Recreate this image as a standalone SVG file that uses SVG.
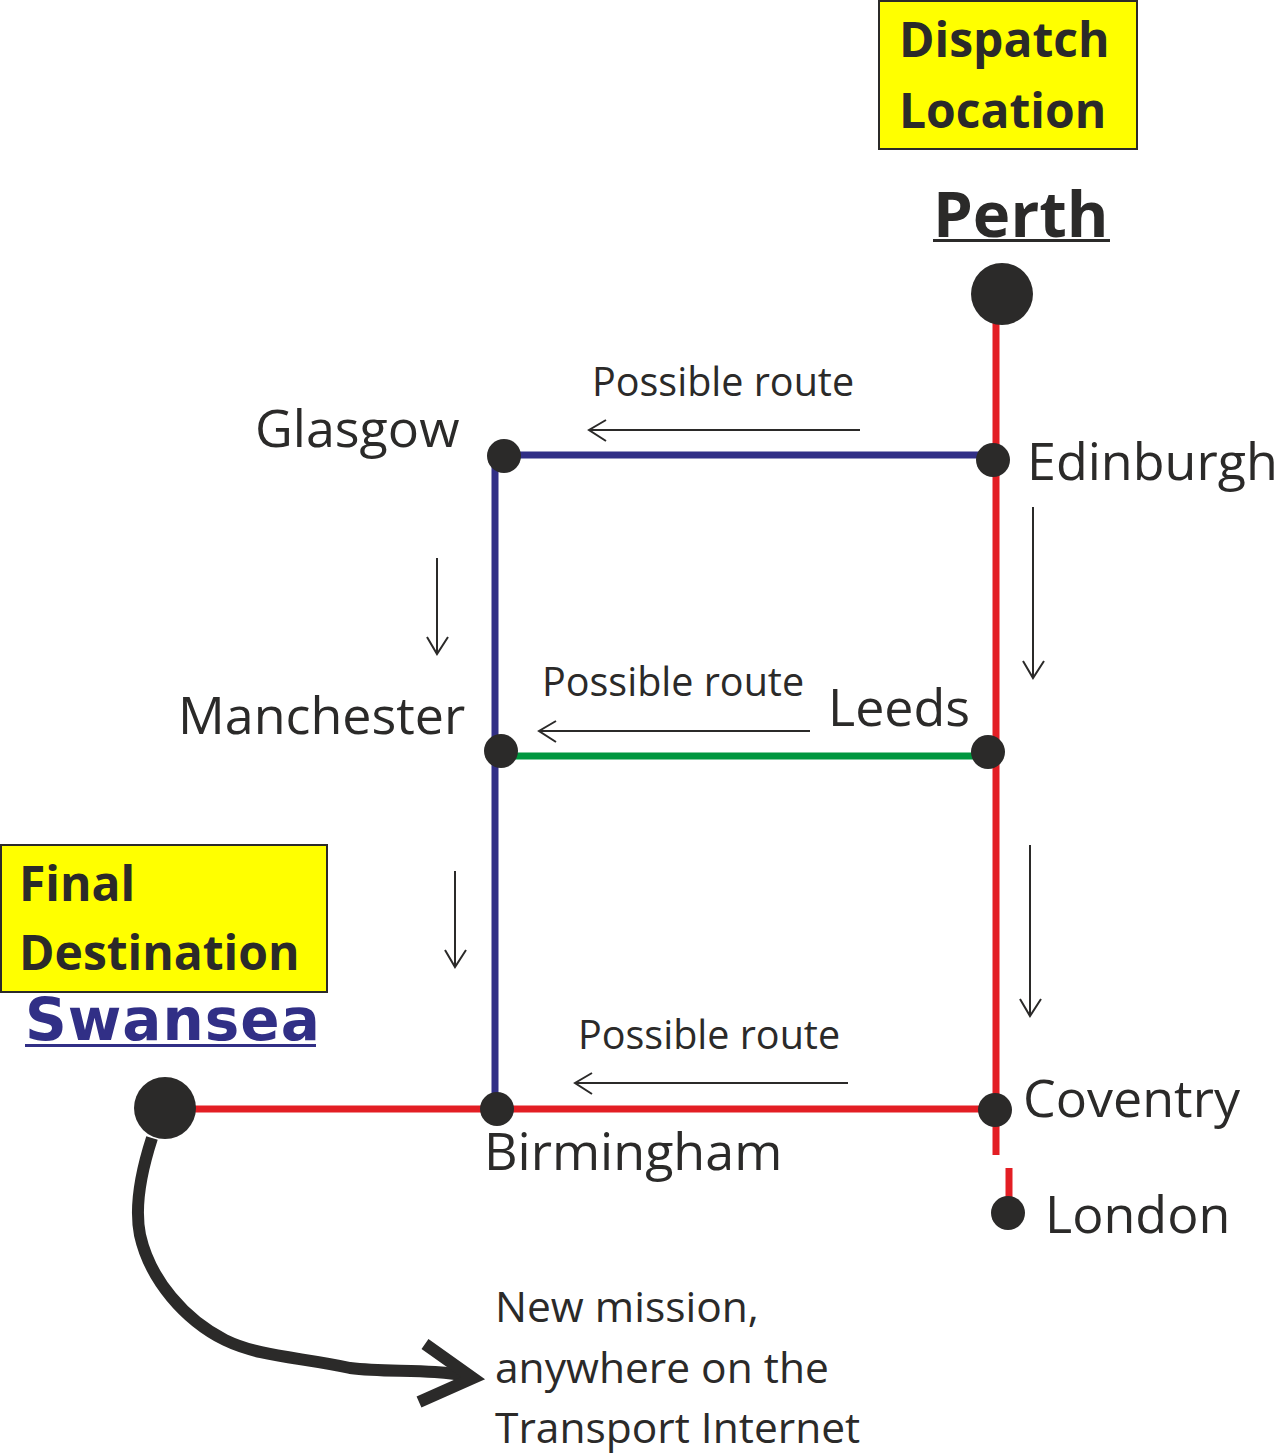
<svg xmlns="http://www.w3.org/2000/svg" width="1276" height="1454" viewBox="0 0 1276 1454">
<defs>
<style>
.t{font-family:"Open Sans","Noto Sans","DejaVu Sans",sans-serif;fill:#2b2a29}
.b{font-weight:bold}
.city{font-size:52px}
.pr{font-size:39.5px}
.nm{font-size:42.5px}
.box{fill:#ffff00;stroke:#2b2a29;stroke-width:2}
.dot{fill:#2b2a29}
.red{stroke:#e31e24;stroke-width:7;fill:none}
.blue{stroke:#312f86;stroke-width:7;fill:none}
.green{stroke:#00963f;stroke-width:7;fill:none}
.arr{stroke:#2b2a29;stroke-width:2;fill:none}
</style>
</defs>
<rect width="1276" height="1454" fill="#ffffff"/>
<g id="connectors">
<line class="red" x1="996" y1="294" x2="996" y2="1155"/>
<line class="red" x1="1009" y1="1168" x2="1009" y2="1213"/>
<line class="red" x1="165" y1="1109" x2="995" y2="1109"/>
<line class="blue" x1="504" y1="455" x2="993" y2="455"/>
<line class="blue" x1="495" y1="456" x2="495" y2="1109"/>
<line class="green" x1="501" y1="756" x2="988" y2="756"/>
<path d="M860 430 H589 M606 420 L589 430 L606 441" class="arr"/>
<path d="M810 731 H539 M556 721 L539 731 L556 742" class="arr"/>
<path d="M848 1083 H575 M592 1073 L575 1083 L592 1094" class="arr"/>
<path d="M437 558 V654 M427 637 L437 654 L448 637" class="arr"/>
<path d="M1033 507 V678 M1023 661 L1033 678 L1044 661" class="arr"/>
<path d="M455 871 V967 M445 950 L455 967 L466 950" class="arr"/>
<path d="M1030 845 V1016 M1020 999 L1030 1016 L1041 999" class="arr"/>
<path d="M152 1138 C140 1175 135 1210 140 1235 C150 1280 185 1320 225 1340 C260 1357 300 1357 350 1368 C390 1373 430 1368 470 1377" stroke="#2b2a29" stroke-width="12" fill="none"/>
<path d="M425 1344 L473 1378 L419 1402" stroke="#2b2a29" stroke-width="12" fill="none"/>
</g>
<g id="dispatch">
<rect class="box" x="879" y="1" width="258" height="148"/>
<text class="t b" x="899" y="57" font-size="48">Dispatch</text>
<text class="t b" x="899" y="128" font-size="48">Location</text>
</g>
<g id="perth">
<text class="t b" x="933" y="237" font-size="63.5">Perth</text>
<rect x="933" y="239" width="177" height="3" fill="#2b2a29"/>
<circle class="dot" cx="1002" cy="294" r="31"/>
</g>
<g id="edinburgh">
<circle class="dot" cx="993" cy="460" r="17"/>
<text class="t city" x="1027" y="480">Edinburgh</text>
</g>
<g id="glasgow">
<circle class="dot" cx="504" cy="456" r="17"/>
<text class="t city" x="255" y="447">Glasgow</text>
</g>
<g id="manchester">
<circle class="dot" cx="501" cy="751" r="17"/>
<text class="t city" x="178" y="734">Manchester</text>
</g>
<g id="leeds">
<circle class="dot" cx="988" cy="752" r="17"/>
<text class="t city" x="828" y="726">Leeds</text>
</g>
<g id="birmingham">
<circle class="dot" cx="497" cy="1109" r="17"/>
<text class="t city" x="484" y="1170">Birmingham</text>
</g>
<g id="coventry">
<circle class="dot" cx="995" cy="1110" r="17"/>
<text class="t city" x="1023" y="1117">Coventry</text>
</g>
<g id="london">
<circle class="dot" cx="1008" cy="1213" r="17"/>
<text class="t city" x="1045" y="1233">London</text>
</g>
<g id="final">
<rect class="box" x="1" y="845" width="326" height="147"/>
<text class="t b" x="19" y="901" font-size="48">Final</text>
<text class="t b" x="19" y="970" font-size="48">Destination</text>
</g>
<g id="swansea">
<text x="25" y="1040" font-family="'DejaVu Sans',Verdana,sans-serif" font-weight="bold" font-size="58" letter-spacing="1" fill="#312f86">Swansea</text>
<rect x="25" y="1044" width="291" height="3" fill="#312f86"/>
<circle class="dot" cx="165" cy="1108" r="31"/>
</g>
<g id="labels">
<text class="t pr" x="592" y="396">Possible route</text>
<text class="t pr" x="542" y="696">Possible route</text>
<text class="t pr" x="578" y="1049">Possible route</text>
<text class="t nm" x="495" y="1322">New mission,</text>
<text class="t nm" x="495" y="1383">anywhere on the</text>
<text class="t nm" x="495" y="1443">Transport Internet</text>
</g>
</svg>
